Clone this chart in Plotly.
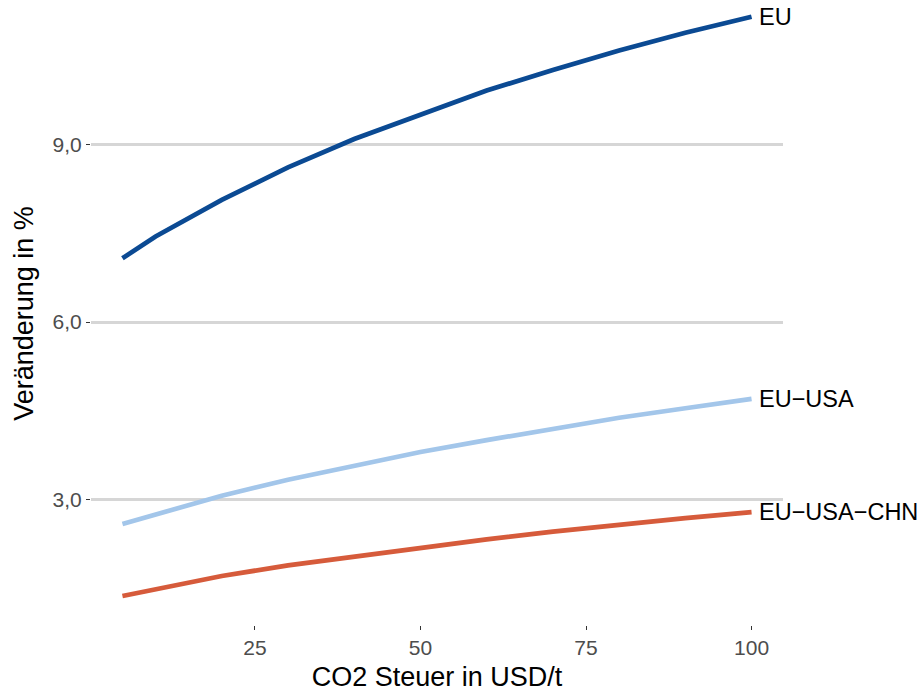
import plotly.graph_objects as go

x_vals = [5, 10, 20, 30, 40, 50, 60, 70, 80, 90, 100]
eu = [7.08, 7.45, 8.07, 8.62, 9.10, 9.52, 9.92, 10.27, 10.60, 10.90, 11.17]
eu_usa = [2.58, 2.74, 3.06, 3.33, 3.57, 3.80, 4.00, 4.20, 4.38, 4.54, 4.70]
eu_usa_chn = [1.36, 1.48, 1.70, 1.88, 2.03, 2.18, 2.32, 2.45, 2.57, 2.68, 2.78]

series_names = ["EU", "EU\u2212USA", "EU\u2212USA\u2212CHN"]
series_vals = [eu, eu_usa, eu_usa_chn]
colors = ["#0b4a93", "#a3c6ea", "#d65b3b"]

y_ticks = [3, 6, 9]
y_ticktext = ["3,0", "6,0", "9,0"]
x_ticks = [25, 50, 75, 100]

FONT = "Liberation Sans, Arial, sans-serif"

fig = go.Figure()
for name, vals, c in zip(series_names, series_vals, colors):
    fig.add_trace(go.Scatter(x=x_vals, y=vals, mode="lines", name=name,
                             line=dict(color=c, width=4.7), showlegend=False))
    fig.add_annotation(x=x_vals[-1], y=vals[-1], text=name, showarrow=False,
                       xanchor="left", yanchor="middle", xshift=5,
                       font=dict(size=23.5, color="#000000", family=FONT))

fig.update_layout(
    width=923, height=695,
    margin=dict(l=91, r=140, t=2, b=70, autoexpand=False),
    plot_bgcolor="white", paper_bgcolor="white",
    font=dict(family=FONT),
    xaxis=dict(range=[0.25, 104.75], tickvals=x_ticks, showgrid=False,
               zeroline=False, showline=False, ticks="outside", ticklen=4,
               tickwidth=1, tickcolor="#333333",
               tickfont=dict(size=21, color="#4d4d4d"),
               title=dict(text="CO2 Steuer in USD/t",
                          font=dict(size=27, color="#000000"), standoff=8)),
    yaxis=dict(range=[0.87, 11.42], tickvals=y_ticks, ticktext=y_ticktext,
               showgrid=True, gridcolor="#d6d6d6", gridwidth=2.6,
               zeroline=False, showline=False, ticks="outside", ticklen=4,
               tickwidth=1, tickcolor="#333333",
               tickfont=dict(size=21, color="#4d4d4d"),
               title=dict(text="Veränderung in %",
                          font=dict(size=27, color="#000000"), standoff=11)),
)

fig.write_html("out.html", post_script="document.body.style.margin='0';",
               config={"displayModeBar": False})
